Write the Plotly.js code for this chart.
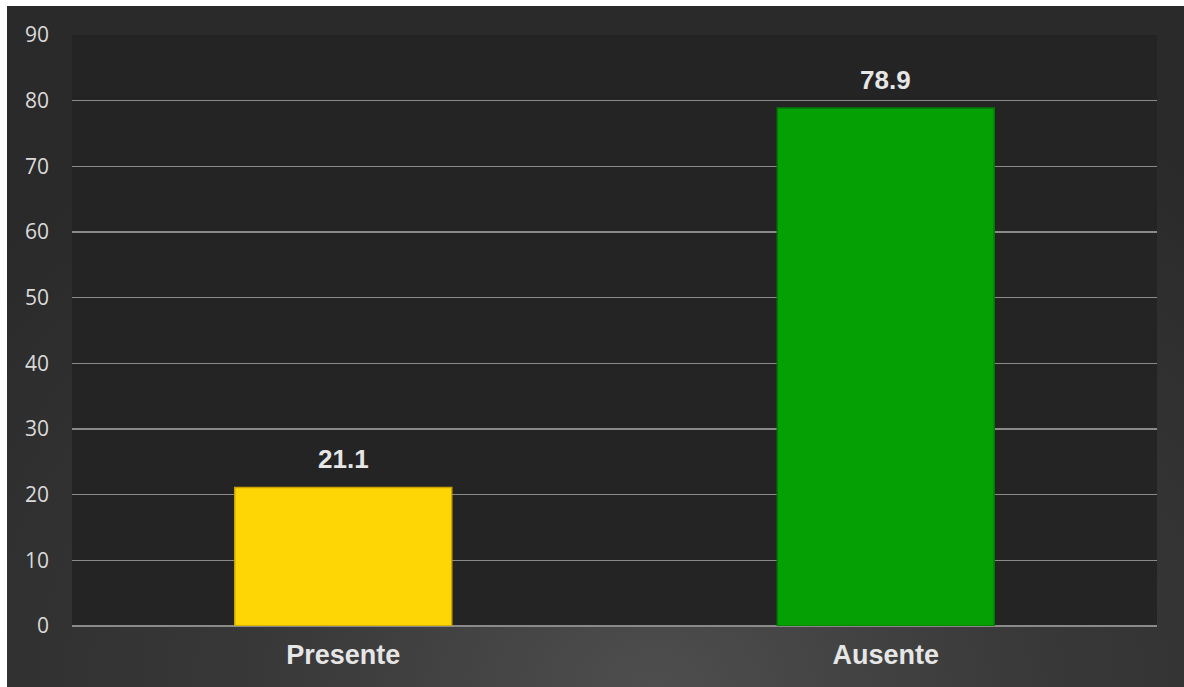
<!DOCTYPE html>
<html>
<head>
<meta charset="utf-8">
<script src="https://cdn.plot.ly/plotly-3.0.1.min.js"></script>
<style>
  html, body { margin: 0; padding: 0; background: #ffffff; width: 1184px; height: 687px; overflow: hidden; }
  #chart {
    position: absolute; left: 7px; top: 6px; width: 1177px; height: 681px;
    background: radial-gradient(ellipse 75% 95% at 55% 100%, #4e4e4e 0%, #383838 45%, #2a2a2a 100%);
  }
</style>
</head>
<body>
<div id="chart"></div>
<script>
const categories = ["Presente", "Ausente"];
const values = [21.1, 78.9];
const barColors = ["#FFD605", "#04A004"];
const edgeColors = ["#C9A400", "#027A02"];
const yTicks = [0, 10, 20, 30, 40, 50, 60, 70, 80, 90];

const trace = {
  type: "bar",
  x: categories,
  y: values,
  width: 0.4,
  marker: { color: barColors, line: { color: edgeColors, width: 1.5 } },
  hoverinfo: "skip"
};

const annotations = categories.map((c, i) => ({
  x: c, y: values[i], xref: "x", yref: "y",
  text: values[i].toFixed(1),
  showarrow: false, yanchor: "bottom", yshift: 11,
  font: { family: "Liberation Sans, Arial, sans-serif", size: 26, color: "#E6E6E6", weight: "bold" }
}));

const layout = {
  width: 1177, height: 681,
  margin: { l: 65, r: 27, t: 29, b: 61 },
  paper_bgcolor: "rgba(0,0,0,0)",
  plot_bgcolor: "#242424",
  showlegend: false,
  bargap: 0.6,
  xaxis: {
    type: "category",
    showgrid: false, zeroline: false, showline: false,
    ticks: "", ticklabelstandoff: 10,
    tickfont: { family: "Liberation Sans, Arial, sans-serif", size: 27, color: "#E6E6E6", weight: "bold" }
  },
  yaxis: {
    range: [0, 90],
    tickvals: yTicks,
    ticktext: yTicks.map(String),
    showgrid: true, gridcolor: "#8A8A8A", gridwidth: 1.3,
    zeroline: true, zerolinecolor: "#8A8A8A", zerolinewidth: 2,
    showline: false, ticks: "", ticklabelstandoff: 22,
    tickfont: { family: "Open Sans, Noto Sans, sans-serif", size: 21, color: "#DADADA" }
  },
  annotations: annotations
};

Plotly.newPlot("chart", [trace], layout, { displayModeBar: false, staticPlot: true });
</script>
</body>
</html>
